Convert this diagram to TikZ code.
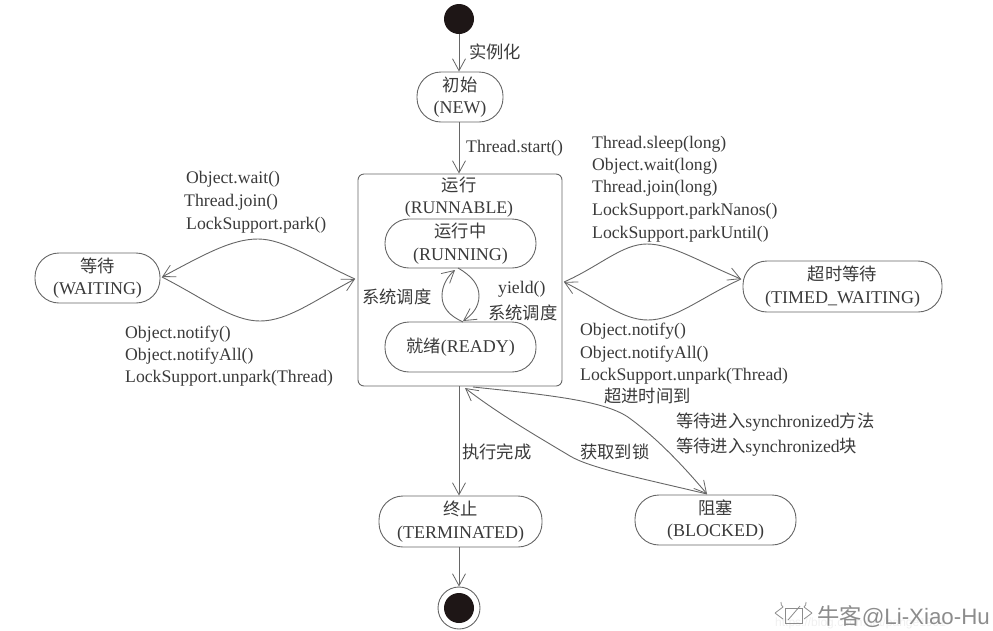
\documentclass[tikz,border=0pt]{standalone}
\usepackage{fontspec}
\setmainfont{Liberation Serif}
\newfontfamily\cjk{Noto Sans CJK SC}[Scale=1.0]
\newfontfamily\wmfont{Liberation Sans}
\usepackage{xcolor}
\usetikzlibrary{calc}
\usetikzlibrary{arrows.meta}
\definecolor{inkline}{HTML}{666666}
\definecolor{inktext}{HTML}{3A3A3A}
\definecolor{inkdot}{HTML}{1E1616}
\definecolor{inkmark}{HTML}{8C8C8C}
\definecolor{inkfaint}{HTML}{F0F0F0}
\newcommand{\zh}[1]{{\cjk\fontsize{17.3}{22}\selectfont #1}}
\tikzstyle{arrow}=[-{Straight Barb[length=12pt,width=13pt,line width=0.8pt]},inkline,line width=0.9pt]
\tikzstyle{lbl}=[anchor=west,inner sep=0pt,yshift=-2pt,text=inktext,font=\fontsize{17.7}{22}\selectfont]
\tikzstyle{state}=[draw=inkline,line width=0.9pt,rounded corners=24pt,inner sep=0pt,align=center,text=inktext,font=\fontsize{18}{22.5}\selectfont]
\tikzstyle{dot}=[circle,fill=inkdot,inner sep=0pt,minimum size=30pt]

\begin{document}
\begin{tikzpicture}[x=1pt,y=-1pt]
		\useasboundingbox (0,0) rectangle (993,630);
		% states
		\node[dot] 	(init) 		at (459,19) {};
		\node[state,minimum width=86pt,minimum height=50pt] 	(new) 		at (460,97) {\zh{初始}\\(NEW)};
		\node[state,rounded corners=6pt,minimum width=204pt,minimum height=212pt] 	(runnable) 	at (460,280) {};
		\node[lbl,anchor=center,align=center] 	(runtitle) 	at (459,195) {\zh{运行}\\(RUNNABLE)};
		\node[state,minimum width=151pt,minimum height=49pt] 	(running) 	at (460.5,243.5) {\zh{运行中}\\(RUNNING)};
		\node[state,minimum width=151pt,minimum height=50pt] 	(ready) 	at (460.5,347) {\zh{就绪}(READY)};
		\node[state,minimum width=125pt,minimum height=50pt] 	(waiting) 	at (97.5,278) {\zh{等待}\\(WAITING)};
		\node[state,minimum width=199pt,minimum height=51pt] 	(timed) 	at (842.5,286.5) {\zh{超时等待}\\(TIMED\_WAITING)};
		\node[state,minimum width=163pt,minimum height=51pt] 	(term) 		at (460.5,521.5) {\zh{终止}\\(TERMINATED)};
		\node[state,minimum width=161pt,minimum height=50pt] 	(blocked) 	at (715.5,520) {\zh{阻塞}\\(BLOCKED)};
		\node[circle,draw=inkline,line width=0.9pt,inner sep=0pt,minimum size=42pt] 	(final) 	at (459,608) {};
		\node[dot] 	(finaldot) 	at (459,608) {};
		% ends and peaks of the curved arrows
		\coordinate (wtop) 	at (258,239);
		\coordinate (wbot) 	at (260,321);
		\coordinate (ttop) 	at (647,244);
		\coordinate (tbot) 	at (648,320);
		\coordinate (wright) 	at (355,279);
		\coordinate (wleft) 	at (162,277);
		\coordinate (tleft) 	at (564,282);
		\coordinate (tright) 	at (741,279);
		\coordinate (bl) 	at (707,494);
		\coordinate (rb) 	at (465,388);
		% straight arrows
		\draw[arrow] (init)--(init|-new.north);
		\draw[arrow] (init|-new.south)--(init|-runnable.north);
		\draw[arrow] (init|-runnable.south)--(init|-term.north);
		\draw[arrow] (init|-term.south)--(final);
		% waiting
		\draw[arrow] (wright) .. controls (315,261) and (285,239) .. (wtop) .. controls (232,239) and (205,254) .. (wleft);
		\draw[arrow] (wleft) .. controls (205,299) and (232,321) .. (wbot) .. controls (288,321) and (315,300) .. (wright);
		% timed waiting
		\draw[arrow] (tleft) .. controls (600,266) and (622,244) .. (ttop) .. controls (672,244) and (700,262) .. (tright);
		\draw[arrow] (tright) .. controls (700,298) and (675,320) .. (tbot) .. controls (622,320) and (600,300) .. (tleft);
		% ready and running
		\draw[arrow] (463,322) .. controls (450,316) and (442,308) .. (442,296) .. controls (442,286) and (447,277) .. (455,270);
		\draw[arrow] (458,268) .. controls (472,276) and (479,285) .. (479,296) .. controls (479,307) and (472,315) .. (463,321);
		% blocked
		\draw[arrow] (473,387) .. controls (560,396) and (610,402) .. (632,420) .. controls (660,441) and (685,468) .. (bl);
		\draw[arrow] (bl) .. controls (640,478) and (590,468) .. (570,456) .. controls (540,438) and (500,415) .. (rb);
		% labels
		\node[lbl] (inst) at (469,50) {\zh{实例化}};
		\node[lbl] (start) at (466,146) {Thread.start()};
		\foreach \y/\lab in {177/Object.wait(),223/LockSupport.park()} {
			\node[lbl] (wu\y) at (186,\y) {\lab};}
		\node[lbl] (wu200) at (184,200) {Thread.join()};
		\foreach \y/\lab in {332/Object.notify(),354/Object.notifyAll(),376/LockSupport.unpark(Thread)} {
			\node[lbl] (wd\y) at (125,\y) {\lab};}
		\foreach \y/\lab in {142/Thread.sleep(long),164/Object.wait(long),186/Thread.join(long),209/LockSupport.parkNanos(),232/LockSupport.parkUntil()} {
			\node[lbl] (tu\y) at (592,\y) {\lab};}
		\foreach \y/\lab in {329/Object.notify(),352/Object.notifyAll(),374/LockSupport.unpark(Thread)} {
			\node[lbl] (td\y) at (580,\y) {\lab};}
		\node[lbl] (sched) at (362,295) {\zh{系统调度}};
		\node[lbl] (yield) at (498,287) {yield()};
		\node[lbl] (sched2) at (488,311) {\zh{系统调度}};
		\node[lbl] (timeout) at (604,394) {\zh{超进时间到}};
		\node[lbl] (syncm) at (676,420) {\zh{等待进入}synchronized\zh{方法}};
		\node[lbl] (syncb) at (676,445) {\zh{等待进入}synchronized\zh{块}};
		\node[lbl] (done) at (462,450) {\zh{执行完成}};
		\node[lbl] (lock) at (580,450) {\zh{获取到锁}};
		% watermark
		\node[lbl,text=inkfaint,font=\wmfont\fontsize{12}{13}\selectfont] (url) at (775,621) {https://blog.csdn.net/pange1991};
		\draw[inkmark,line width=0.8pt] (785,608) rectangle (802,623);
		\draw[inkmark,line width=0.8pt] (775,613)--(783,607) (775,613)--(783,619) (812,613)--(804,607) (812,613)--(804,619);
		\draw[inkmark,line width=0.8pt] (788,620)--(800,606);
		\draw[inkmark,line width=0.8pt] (783,607) to[bend left=30] (781,602) (804,607) to[bend right=30] (806,602);
		\node[lbl,text=inkmark,font=\wmfont\fontsize{22.3}{24}\selectfont] (mark) at (817,615) {{\cjk 牛客}@Li-Xiao-Hu};
	\end{tikzpicture}
\end{document}
